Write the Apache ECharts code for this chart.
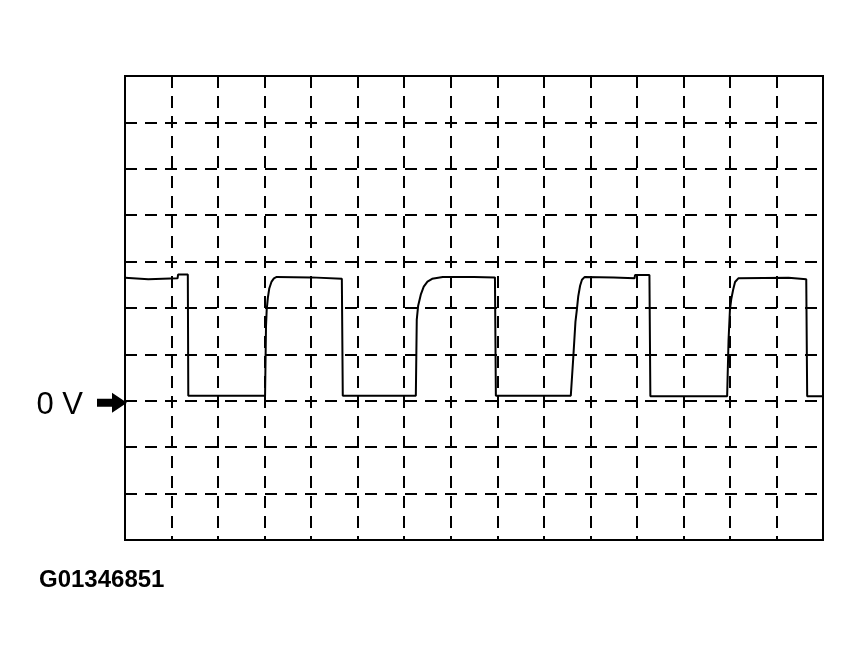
<!DOCTYPE html>
<html>
<head>
<meta charset="utf-8">
<script src="https://cdn.jsdelivr.net/npm/echarts@6/dist/echarts.min.js"></script>
<style>
html,body{margin:0;padding:0;background:#fff;}
#chart{width:863px;height:662px;}
</style>
</head>
<body>
<div id="chart"></div>
<script>
// time in horizontal divisions (0..15), voltage in vertical divisions (0 V = 0)
const traceT = [0, 0.5, 1.13, 1.14, 1.35, 1.36,
  3.01, 3.03, 3.045, 3.07, 3.10, 3.15, 3.20, 3.26, 4.0, 4.66, 4.68,
  6.25, 6.27, 6.30, 6.36, 6.42, 6.50, 6.60, 6.83, 7.5, 7.95, 7.97,
  9.58, 9.61, 9.63, 9.68, 9.71, 9.74, 9.78, 9.82, 9.88, 10.5, 10.95, 10.96, 11.27, 11.29,
  12.94, 12.97, 13.0, 13.03, 13.07, 13.11, 13.18, 14.26, 14.64, 14.66, 15];
const traceV = [2.65, 2.62, 2.64, 2.72, 2.72, 0.11,
  0.11, 1.60, 1.96, 2.22, 2.42, 2.57, 2.64, 2.67, 2.66, 2.63, 0.11,
  0.11, 1.75, 2.05, 2.30, 2.46, 2.57, 2.63, 2.67, 2.67, 2.66, 0.11,
  0.11, 0.14, 0.88, 1.70, 1.96, 2.25, 2.48, 2.61, 2.67, 2.66, 2.64, 2.71, 2.71, 0.10,
  0.10, 1.30, 1.96, 2.20, 2.40, 2.56, 2.64, 2.65, 2.62, 0.10, 0.10];
const xRange = [0, 15];
const yRange = [-3, 7];
const zeroLabel = '0 V';
const figureId = 'G01346851';

const traceData = traceT.map((t, i) => [t, traceV[i]]);

const chart = echarts.init(document.getElementById('chart'), null, {renderer: 'canvas'});
const gridLine = {show: true, lineStyle: {color: '#000', width: 2, type: [12, 8]}};
chart.setOption({
  animation: false,
  backgroundColor: '#fff',
  title: {
    text: figureId,
    left: 34,
    top: 563,
    textStyle: {fontFamily: 'Liberation Sans, Arial, sans-serif', fontSize: 24, fontWeight: 'bold', color: '#000'}
  },
  grid: {
    left: 125, top: 76, right: 40, bottom: 122,
    show: true, borderColor: '#000', borderWidth: 2, backgroundColor: 'transparent'
  },
  xAxis: {
    type: 'value', min: xRange[0], max: xRange[1], interval: 1,
    axisLine: {show: false}, axisTick: {show: false}, axisLabel: {show: false},
    splitLine: gridLine
  },
  yAxis: {
    type: 'value', min: yRange[0], max: yRange[1], interval: 1,
    axisLine: {show: false}, axisTick: {show: false}, axisLabel: {show: false},
    splitLine: gridLine
  },
  series: [{
    type: 'line',
    data: traceData,
    showSymbol: false,
    smooth: false,
    lineStyle: {color: '#000', width: 2},
    silent: true,
    markPoint: {
      silent: true,
      data: [{
        coord: [xRange[0], 0],
        symbol: 'path://M0,6 L15,6 L15,0 L30,10 L15,20 L15,14 L0,14 Z',
        symbolSize: [30, 20],
        symbolOffset: [-13, 2],
        itemStyle: {color: '#000'},
        label: {
          show: true, position: 'left', distance: 14, offset: [0, 3],
          formatter: zeroLabel,
          fontFamily: 'Liberation Sans, Arial, sans-serif', fontSize: 31, color: '#000'
        }
      }]
    }
  }]
});
</script>
</body>
</html>
